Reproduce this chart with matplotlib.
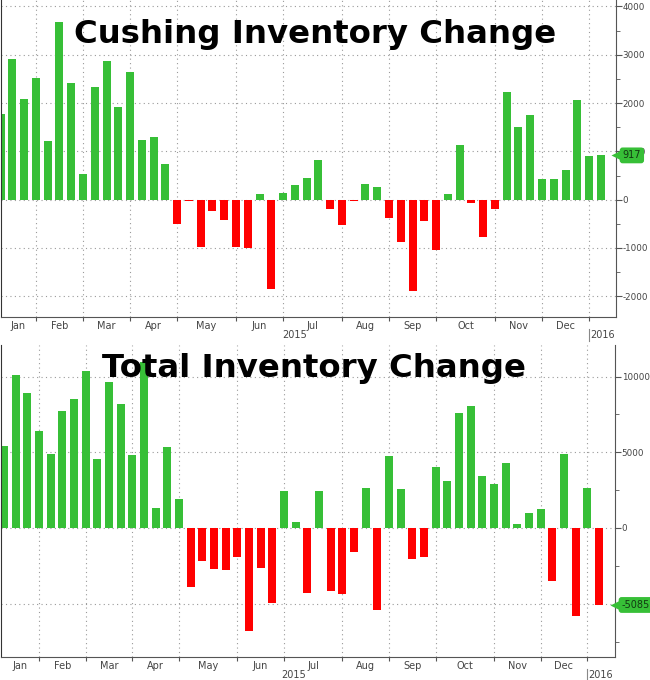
import matplotlib.pyplot as plt
import matplotlib.transforms as mtransforms
from matplotlib.ticker import MultipleLocator, FixedLocator, NullFormatter
import numpy as np
import pandas as pd

plt.rcParams['font.family'] = 'DejaVu Sans'
plt.rcParams['axes.unicode_minus'] = False

# weekly EIA reports (week ending Friday)
week_ending = pd.date_range('2015-01-09', periods=52, freq='7D')

cushing_change = [1774, 2913, 2092, 2520, 1215, 3672, 2423, 539, 2326, 2872,
                  1919, 2637, 1243, 1298, 739, -510, -30, -979, -227, -420,
                  -972, -1007, 125, -1849, 146, 304, 442, 822, -193, -531,
                  -34, 332, 256, -372, -883, -1883, -448, -1048, 111, 1133,
                  -68, -772, -193, 2237, 1498, 1754, 429, 429, 615, 2057,
                  898, 917]

total_change = [5439, 10107, 8940, 6386, 4888, 7751, 8500, 10371, 4558, 9645,
                8213, 4800, 10966, 1300, 5329, 1938, -3876, -2180, -2686, -2775,
                -1916, -6782, -2664, -4932, 2444, 418, -4316, 2466, -4140, -4360,
                -1607, 2664, -5439, 4734, 2598, -2070, -1894, 4008, 3105, 7575,
                8059, 3413, 2907, 4272, 286, 991, 1233, -3479, 4866, -5813,
                2664, -5085]

month_names = ['Jan', 'Feb', 'Mar', 'Apr', 'May', 'Jun',
               'Jul', 'Aug', 'Sep', 'Oct', 'Nov', 'Dec']

GREEN = '#37bf37'
RED = '#ff0000'
GRID = '#9a9a9a'
AXIS = '#555555'


def month_breaks(dates):
    """Bar index that sits on each month boundary (last week before the 1st)."""
    starts = pd.date_range('2015-02-01', '2016-01-01', freq='MS')
    return [int(np.searchsorted(dates.values, s.to_datetime64())) - 1 for s in starts]


def draw_panel(fig, ax, values, title, title_pos, ylim, xlim, major, minor):
    x = np.arange(len(values))
    colors = [GREEN if v >= 0 else RED for v in values]
    ax.bar(x, values, width=0.68, color=colors, zorder=2)

    ax.set_xlim(*xlim)
    ax.set_ylim(*ylim)

    # y axis on the right, Bloomberg style
    ax.yaxis.tick_right()
    ax.yaxis.set_major_locator(MultipleLocator(major))
    ax.yaxis.set_minor_locator(MultipleLocator(minor))
    ax.tick_params(axis='y', which='both', direction='out', color=AXIS,
                   labelsize=6.3, labelcolor='#444444', pad=1)
    ax.tick_params(axis='y', which='major', length=4)
    ax.tick_params(axis='y', which='minor', length=3)

    # month boundaries as major x ticks, month names centred as minor ticks
    breaks = month_breaks(week_ending)
    edges = [xlim[0]] + breaks
    centers = [(a + b) / 2 for a, b in zip(edges[:-1], edges[1:])]
    ax.xaxis.set_major_locator(FixedLocator(breaks))
    ax.xaxis.set_major_formatter(NullFormatter())
    ax.xaxis.set_minor_locator(FixedLocator(centers))
    ax.set_xticklabels(month_names, minor=True)
    ax.tick_params(axis='x', which='major', direction='out', length=3, color=AXIS)
    ax.tick_params(axis='x', which='minor', length=0, labelsize=7,
                   labelcolor='#444444', pad=3)

    ax.grid(True, which='major', color=GRID, linestyle=(0, (1, 3)), linewidth=0.8)
    ax.set_axisbelow(True)

    ax.spines['top'].set_visible(False)
    ax.spines['left'].set_color('#333333')
    ax.spines['bottom'].set_color(AXIS)
    ax.spines['right'].set_color(AXIS)

    # year row below the month names
    ax_h = fig.bbox.height * ax.get_position().height
    trans = mtransforms.blended_transform_factory(ax.transData, ax.transAxes)
    year_break = breaks[-1]
    ax.plot([year_break, year_break], [-12 / ax_h, -24 / ax_h], color='#888888',
            lw=0.8, transform=trans, clip_on=False)
    ax.text((xlim[0] + year_break) / 2, -18 / ax_h, '2015', transform=trans,
            ha='center', va='center', fontsize=7, color='#444444')
    ax.text((year_break + xlim[1]) / 2, -18 / ax_h, '2016', transform=trans,
            ha='center', va='center', fontsize=7, color='#444444')

    # latest value flag on the right axis
    rtrans = mtransforms.blended_transform_factory(ax.transAxes, ax.transData)
    ax.plot([1.0], [values[-1]], marker='<', ms=7, color=GREEN, mec='none',
            transform=rtrans, clip_on=False, zorder=6)
    ax.annotate(f'{values[-1]}', xy=(1.0, values[-1]), xycoords=rtrans,
                xytext=(5, 0), textcoords='offset points', ha='left', va='center',
                fontsize=7, color='#123812', zorder=7, annotation_clip=False,
                bbox=dict(boxstyle='round,pad=0.3', fc=GREEN, ec='none'))

    ax.text(title_pos[0], title_pos[1], title, transform=ax.transAxes,
            ha='center', va='baseline', fontsize=23.3, fontweight='bold',
            color='black', zorder=5)


fig = plt.figure(figsize=(6.5, 6.8), dpi=100)
ax_top = fig.add_axes([0.001, 0.5338, 0.9462, 0.4662])
ax_bot = fig.add_axes([0.001, 0.0343, 0.9446, 0.4584])

draw_panel(fig, ax_top, cushing_change, 'Cushing Inventory Change', (0.511, 0.864),
           (-2429, 4134), (0.0, 52.26), 1000, 500)
draw_panel(fig, ax_bot, total_change, 'Total Inventory Change', (0.51, 0.898),
           (-8500, 12087), (-0.28, 52.34), 5000, 2500)

fig.savefig('out.png', dpi=100)
